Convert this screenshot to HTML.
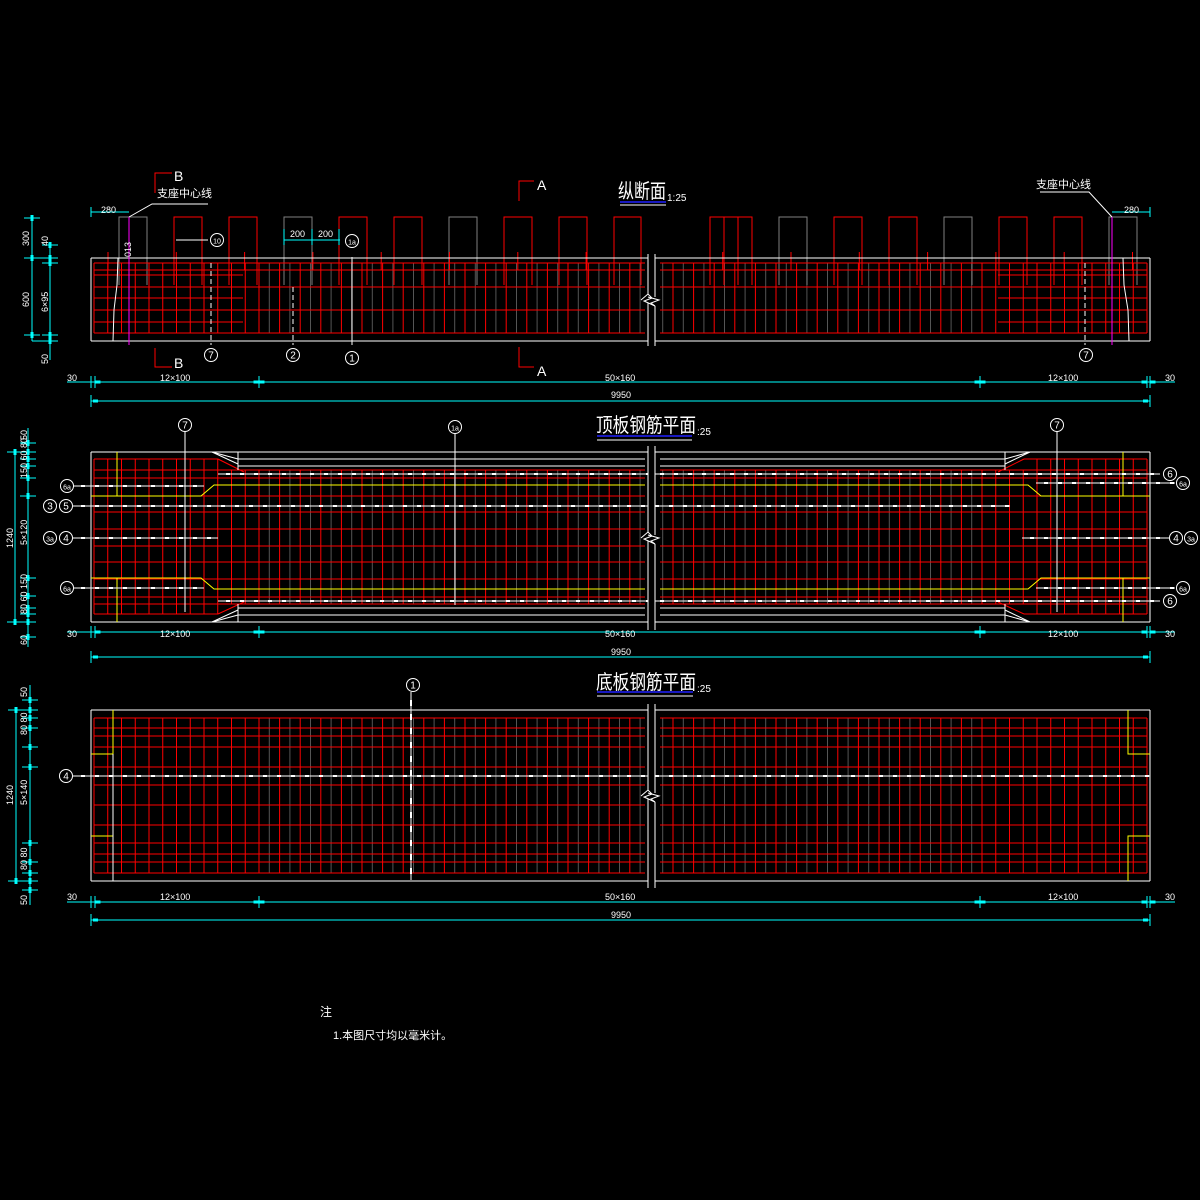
<!DOCTYPE html>
<html><head><meta charset="utf-8"><style>
html,body{margin:0;padding:0;background:#000;width:1200px;height:1200px;overflow:hidden}
svg{display:block}
text{font-family:"Liberation Sans","Noto Sans CJK SC",sans-serif;fill:#fff}
</style></head><body>
<svg id="s" width="1200" height="1200" viewBox="0 0 1200 1200" xmlns="http://www.w3.org/2000/svg">
<rect width="1200" height="1200" fill="#000"/>
<g id="g"></g>
<!-- titles -->
<text x="618" y="198" font-size="20" textLength="48" lengthAdjust="spacingAndGlyphs">纵断面</text>
<text x="667" y="201" font-size="10">1:25</text>
<line x1="620" y1="202" x2="666" y2="202" stroke="#2020ff" stroke-width="1.5"/>
<line x1="620" y1="205" x2="666" y2="205" stroke="#fff"/>
<text x="596" y="432" font-size="20" textLength="100" lengthAdjust="spacingAndGlyphs">顶板钢筋平面</text>
<text x="697" y="435" font-size="10">:25</text>
<line x1="597" y1="436" x2="692" y2="436" stroke="#2020ff" stroke-width="1.5"/>
<line x1="597" y1="440" x2="692" y2="440" stroke="#fff"/>
<text x="596" y="689" font-size="20" textLength="100" lengthAdjust="spacingAndGlyphs">底板钢筋平面</text>
<text x="697" y="692" font-size="10">:25</text>
<line x1="597" y1="692" x2="693" y2="692" stroke="#2020ff" stroke-width="1.5"/>
<line x1="597" y1="696" x2="693" y2="696" stroke="#fff"/>
<!-- section marks -->
<text x="174" y="181" font-size="14">B</text>
<text x="174" y="368" font-size="14">B</text>
<text x="537" y="190" font-size="14">A</text>
<text x="537" y="376" font-size="14">A</text>
<text x="157" y="197" font-size="11">支座中心线</text>
<text x="1036" y="188" font-size="11">支座中心线</text>
<!-- dims text -->
<g font-size="9">
<text x="101" y="213">280</text><text x="1124" y="213">280</text>
<text x="290" y="237">200</text><text x="318" y="237">200</text>
<text x="67" y="381">30</text><text x="160" y="381">12×100</text><text x="605" y="381">50×160</text><text x="1048" y="381">12×100</text><text x="1165" y="381">30</text>
<text x="611" y="398">9950</text>
<text x="67" y="637">30</text><text x="160" y="637">12×100</text><text x="605" y="637">50×160</text><text x="1048" y="637">12×100</text><text x="1165" y="637">30</text>
<text x="611" y="655">9950</text>
<text x="67" y="900">30</text><text x="160" y="900">12×100</text><text x="605" y="900">50×160</text><text x="1048" y="900">12×100</text><text x="1165" y="900">30</text>
<text x="611" y="918">9950</text>
</g>
<g font-size="9">
<text transform="translate(29,246) rotate(-90)">300</text>
<text transform="translate(48,246) rotate(-90)">40</text>
<text transform="translate(29,307) rotate(-90)">600</text>
<text transform="translate(48,312) rotate(-90)">6×95</text>
<text transform="translate(48,364) rotate(-90)">50</text>
<text transform="translate(131,257) rotate(-90)">013</text>
<text transform="translate(27,440) rotate(-90)">50</text>
<text transform="translate(13,548) rotate(-90)">1240</text>
<text transform="translate(27,478) rotate(-90)">150 60 80</text>
<text transform="translate(27,545) rotate(-90)">5×120</text>
<text transform="translate(27,614) rotate(-90)">80 60 150</text>
<text transform="translate(27,645) rotate(-90)">60</text>
<text transform="translate(27,697) rotate(-90)">50</text>
<text transform="translate(13,805) rotate(-90)">1240</text>
<text transform="translate(27,735) rotate(-90)">80 80</text>
<text transform="translate(27,805) rotate(-90)">5×140</text>
<text transform="translate(27,870) rotate(-90)">80 80</text>
<text transform="translate(27,905) rotate(-90)">50</text>
</g>
<text x="320" y="1016" font-size="12">注</text>
<text x="333" y="1039" font-size="11">1.本图尺寸均以毫米计。</text>
</svg>
<script>
var g=document.getElementById('g'),NS='http://www.w3.org/2000/svg';
function L(x1,y1,x2,y2,c,w,d){var e=document.createElementNS(NS,'line');e.setAttribute('x1',x1);e.setAttribute('y1',y1);e.setAttribute('x2',x2);e.setAttribute('y2',y2);e.setAttribute('stroke',c);e.setAttribute('stroke-width',w||1);if(d)e.setAttribute('stroke-dasharray',d);g.appendChild(e);}
function P(pts,c,w){var e=document.createElementNS(NS,'polyline');e.setAttribute('points',pts);e.setAttribute('fill','none');e.setAttribute('stroke',c);e.setAttribute('stroke-width',w||1);g.appendChild(e);}
function C(x,y,t){var e=document.createElementNS(NS,'circle');e.setAttribute('cx',x);e.setAttribute('cy',y);e.setAttribute('r',6.5);e.setAttribute('fill','#000');e.setAttribute('stroke','#fff');g.appendChild(e);var t2=document.createElementNS(NS,'text');t2.setAttribute('x',x);t2.setAttribute('y',y+3.5);t2.setAttribute('font-size',t.length>1?7:10);t2.setAttribute('text-anchor','middle');t2.textContent=t;g.appendChild(t2);}
var R='#ff0000',W='#ffffff',Y='#ffff00',CY='#00ffff',GR='#808080';
var xs=[];
for(var i=0;i<=12;i++){xs.push(94+i*13.75);xs.push(1147-i*13.75);}
for(var x=259+20.6;x<645;x+=20.6)xs.push(x);
for(var x=982-20.6;x>660;x-=20.6)xs.push(x);
function gray(y1,y2){for(var x=269.3;x<645;x+=20.6)L(x,y1,x,y2,'#555',1);for(var x=971.7;x>660;x-=20.6)L(x,y1,x,y2,'#555',1);}
function brk(y1,y2){var m=(y1+y2)/2;g.appendChild(Object.assign(document.createElementNS(NS,'rect'),{}));var r=document.createElementNS(NS,'rect');r.setAttribute('x',648);r.setAttribute('y',y1);r.setAttribute('width',7);r.setAttribute('height',y2-y1);r.setAttribute('fill','#000');g.appendChild(r);L(648,y1,648,m-6,W);L(655,y1,655,m-3,W);L(648,m+3,648,y2,W);L(655,m+6,655,y2,W);P((641)+','+(m)+' 648,'+(m-6)+' 652,'+(m-2)+' 644,'+(m+1)+' 655,'+(m+6),W);P('648,'+(m-3)+' 659,'+(m)+' 651,'+(m+3)+' 655,'+(m+6),W);}
function hdim(y,y2){L(67,y,1175,y,CY);L(91,y2,1150,y2,CY);[91,95,259,980,1147,1150].forEach(function(x){L(x,y-6,x,y+6,CY);});L(91,y2-6,91,y2+6,CY);L(1150,y2-6,1150,y2+6,CY);[98,256,262,977,983,1144,1153].forEach(function(x){L(x-2.5,y,x+2.5,y,CY,3);});L(93,y2,98,y2,CY,3);L(1143,y2,1148,y2,CY,3);}
function vdim(x,y1,y2,ticks){L(x,y1,x,y2,CY);ticks.forEach(function(t){L(x-8,t,x+8,t,CY);L(x,t-3,x,t+3,CY,3);});}

/* ===== Panel 1: elevation ===== */
gray(263,333);
// stirrups
for(var k=0;k<19;k++){var sx=119+k*55; if(sx>600&&sx<700){continue;} var c=(k%3==0)?GR:R; P(sx+',285 '+sx+',217 '+(sx+28)+',217 '+(sx+28)+',285',c);}
P('614,285 614,217 641,217 641,285',R);P('710,285 710,217 738,217 738,285',R);
xs.forEach(function(x){L(x,263,x,333,R);});
[263,270,287,310,333].forEach(function(y){L(94,y,645,y,R);L(660,y,1147,y,R);});
[275,298,322].forEach(function(y){L(94,y,243,y,R);L(998,y,1147,y,R);});
for(var x=108;x<1147;x+=68.3){if(x>640&&x<662)continue;L(x,252,x,270,R);}
L(91,258,1150,258,W);L(91,341,1150,341,W);L(91,258,91,341,W);L(1150,258,1150,341,W);
P('118,258 117,285 114,310 113,341',W);P('1123,258 1124,285 1128,310 1129,341',W);
L(129,217,129,345,'#ff00ff');L(1112,217,1112,345,'#ff00ff');
P('129,217 152,204 208,204','#fff');P('1112,217 1089,192 1040,192','#fff');
L(211,263,211,345,W,1,'5,3');L(293,287,293,345,W,1,'5,3');L(352,257,352,345,W);L(1085,263,1085,345,W,1,'5,3');
L(176,240,208,240,W);
C(211,355,'7');C(293,355,'2');C(352,358,'1');C(1086,355,'7');C(217,240,'10');C(352,241,'1a');
// section marks
P('155,193 155,173 172,173',R);P('155,348 155,367 172,367',R);P('519,201 519,181 534,181',R);P('519,347 519,367 534,367',R);
brk(254,346);
// dims
L(91,212,129,212,CY);L(91,207,91,217,CY);L(1112,212,1150,212,CY);L(1150,207,1150,217,CY);
L(284,240,340,240,CY);L(284,229,284,245,CY);L(312,229,312,245,CY);L(339,229,339,245,CY);
vdim(32,218,341,[218,258,335]);vdim(50,245,360,[245,258,263,335,341]);L(32,258,55,258,CY);L(32,341,55,341,CY);
hdim(382,401);

/* ===== Panel 2: top plan ===== */
gray(470,604);
xs.forEach(function(x){ if(x<218||x>1024)L(x,459,x,614,R); else L(x,470,x,604,R);});
[470,478,496,512,529,546,562,579,597,604].forEach(function(y){L(94,y,645,y,R);L(660,y,1147,y,R);});
[459,614].forEach(function(y){L(94,y,218,y,R);L(1024,y,1147,y,R);});
L(218,459,244,472,R);L(218,614,244,602,R);L(1024,459,998,472,R);L(1024,614,998,602,R);
// haunch white lines
L(238,459,645,459,W);L(238,466,645,466,W);L(660,459,1005,459,W);L(660,466,1005,466,W);
L(238,608,645,608,W);L(238,615,645,615,W);L(660,608,1005,608,W);L(660,615,1005,615,W);
L(238,452,238,470,W);L(1005,452,1005,470,W);L(238,604,238,622,W);L(1005,604,1005,622,W);
P('212,452 238,459',W);P('212,452 238,464',W);P('212,622 238,615',W);P('212,622 238,610',W);
P('1030,452 1005,459',W);P('1030,452 1005,464',W);P('1030,622 1005,615',W);P('1030,622 1005,610',W);
L(91,452,1150,452,W);L(91,622,1150,622,W);L(91,452,91,622,W);L(1150,452,1150,622,W);
// yellow
P('91,496 201,496 214,485 645,485',Y);P('660,485 1028,485 1041,496 1150,496',Y);
P('91,578 201,578 214,589 645,589',Y);P('660,589 1028,589 1041,578 1150,578',Y);
L(117,452,117,496,Y);L(117,578,117,622,Y);L(1123,452,1123,496,Y);L(1123,578,1123,622,Y);
// white dashed rebars
function dl(x1,x2,y){L(x1,y,x2,y,W);L(x1+8,y,x2,y,W,2,'4,10');}
dl(73,204,486);dl(73,1010,506);dl(73,218,538);dl(73,204,588);
dl(218,1160,474);dl(218,1160,601);dl(1036,1175,483);dl(1022,1170,538);dl(1036,1175,588);
L(185,430,185,612,W);L(1057,430,1057,612,W);L(455,430,455,605,W);
C(185,425,'7');C(1057,425,'7');C(455,427,'1a');
C(67,486,'6a');C(50,506,'3');C(66,506,'5');C(50,538,'3a');C(66,538,'4');C(67,588,'6a');
C(1170,474,'6');C(1183,483,'6a');C(1176,538,'4');C(1191,538,'3a');C(1183,588,'6a');C(1170,601,'6');
brk(446,630);
vdim(15,452,622,[452,622]);vdim(28,428,647,[443,452,459,466,478,496,578,596,608,614,622,637]);
L(15,452,35,452,CY);L(15,622,35,622,CY);
hdim(632,657);

/* ===== Panel 3: bottom plan ===== */
gray(718,873);
xs.forEach(function(x){L(x,718,x,873,R);});
[718,728,736,747,767,785,805,825,843,854,862,873].forEach(function(y){L(94,y,645,y,R);L(660,y,1147,y,R);});
L(91,710,1150,710,W);L(91,881,1150,881,W);L(91,710,91,881,W);L(1150,710,1150,881,W);
P('113,710 113,754 91,754',Y);P('113,881 113,836 91,836',Y);P('1128,710 1128,754 1150,754',Y);P('1128,881 1128,836 1150,836',Y);
L(113,754,113,881,W);L(113,710,113,754,Y);
dl(73,1150,776);
L(411,692,411,880,W);L(411,700,411,880,W,2,'6,8');
C(66,776,'4');C(413,685,'1');
brk(704,888);
vdim(16,710,881,[710,881]);vdim(30,685,905,[700,710,718,728,747,767,843,862,873,881,890]);
L(16,710,36,710,CY);L(16,881,36,881,CY);
hdim(902,920);
</script>
</body></html>
